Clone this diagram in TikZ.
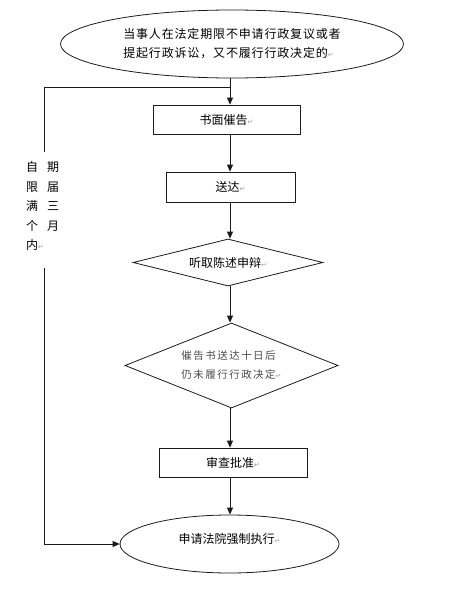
\documentclass[tikz,border=0pt]{standalone}
\usepackage{fontspec}
\usepackage{xcolor}
\usepackage{tikz}
\usetikzlibrary{positioning, arrows.meta, shapes.geometric}
\newfontfamily\cjk{Noto Sans CJK SC}
\newfontfamily\markfont{DejaVu Sans}
\definecolor{FlowLine}{HTML}{1A1A1A}
\definecolor{FlowText}{HTML}{4A4A4A}
\definecolor{MarkGray}{HTML}{A0A0A0}
\newcommand{\pmark}{{\markfont\color{MarkGray}\fontsize{7}{7}\selectfont ↵}}

\begin{document}
\begin{tikzpicture}[x=1pt, y=-1pt,
  every node/.style={font=\cjk\fontsize{12}{19}\selectfont},
  flowbox/.style={rectangle, draw=FlowLine, line width=0.8pt, minimum height=29pt, inner sep=0pt},
  flowoval/.style={ellipse, draw=FlowLine, line width=0.8pt, inner sep=0pt},
  flowdia/.style={diamond, draw=FlowLine, line width=0.8pt, inner sep=0pt},
  arr/.style={draw=FlowLine, line width=0.8pt, -{Triangle[length=7pt,width=6pt]}}]
  \useasboundingbox (0,0) rectangle (453,589);
  % main column
  \node[flowoval, minimum width=343pt, minimum height=68pt, align=left,
        font=\cjk\fontsize{12}{19}\selectfont\addfontfeatures{LetterSpace=7}] (start) at (232,44)
        {当事人在法定期限不申请行政复议或者\\提起行政诉讼，又不履行行政决定的\pmark};
  \node[flowbox, minimum width=147pt] (warn) at (226.5,119.5) {书面催告\pmark};
  \node[flowbox, minimum width=129pt, minimum height=30pt] (serve) at (230.5,187) {送达\pmark};
  \node[flowdia, aspect=4, minimum width=190pt, minimum height=47pt] (hear) at (228,262.5) {听取陈述申辩\pmark};
  \node[flowdia, aspect=2.5, minimum width=213pt, minimum height=85pt, align=left, text=FlowText,
        font=\cjk\fontsize{10.5}{19}\selectfont\addfontfeatures{LetterSpace=14}] (overdue) at (231.5,365.5)
        {催告书送达十日后\\仍未履行行政决定\pmark};
  \node[flowbox, minimum width=148pt] (approve) at (233,462.5) {审查批准\pmark};
  \node[flowoval, minimum width=219pt, minimum height=58pt, text depth=12pt] (court) at (229.5,544)
        {申请法院强制执行\pmark};
  % side path
  \node[align=left, inner sep=0pt, font=\cjk\fontsize{12}{19.5}\selectfont] (limit) at (42.5,206)
        {自\hspace{9pt}期\\限\hspace{9pt}届\\满\hspace{9pt}三\\个\hspace{9pt}月\\内\pmark};
  \coordinate (split) at (230,87);
  \coordinate (ltop) at (44,87);
  \coordinate (lmid) at (44,152);
  \coordinate (lres) at (44,268);
  \coordinate (lbot) at (44,544);
  % connectors
  \draw[arr] (start.south -| split) -- (warn.north -| split);
  \draw[arr] (warn.south -| split) -- (serve.north -| split);
  \draw[arr] (serve.south -| split) -- (hear.north -| split);
  \draw[arr] (hear.south -| split) -- (overdue.north -| split);
  \draw[arr] (overdue.south -| split) -- (approve.north -| split);
  \draw[arr] (approve.south -| split) -- (court.north -| split);
  \draw[FlowLine, line width=0.8pt] (split) -- (ltop) -- (lmid);
  \draw[arr] (lres) -- (lbot) -- (court.west);
\end{tikzpicture}
\end{document}
